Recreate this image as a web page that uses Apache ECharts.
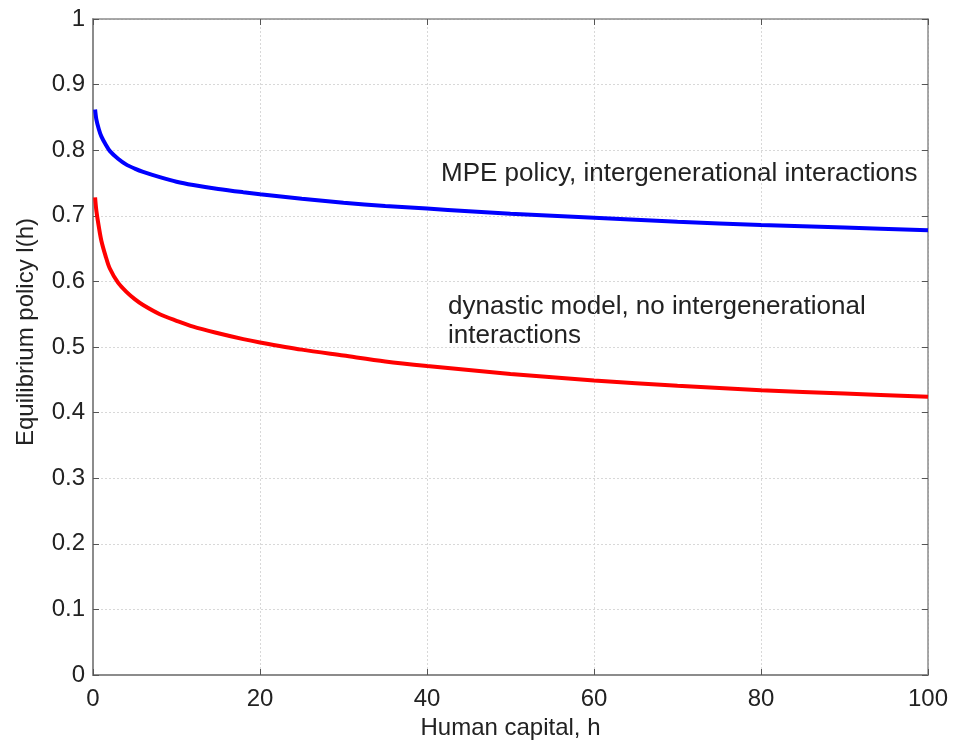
<!DOCTYPE html>
<html>
<head>
<meta charset="utf-8">
<script src="https://cdn.jsdelivr.net/npm/echarts@6/dist/echarts.min.js"></script>
<style>
  html, body { margin: 0; padding: 0; background: #fff; }
  #chart { width: 958px; height: 749px; }
</style>
</head>
<body>
<div id="chart"></div>
<script>
// human capital h (x) and equilibrium policy l(h) for both models
const hValues = [0.25, 0.4, 0.7, 1, 1.5, 2, 3, 4, 5, 6, 8, 10, 12, 15, 18, 20, 25, 30, 35, 40, 45, 50, 60, 70, 80, 90, 100]
const mpePolicy = [0.862, 0.847, 0.832, 0.821, 0.809, 0.799, 0.787, 0.778, 0.772, 0.767, 0.759, 0.752, 0.747, 0.741, 0.736, 0.733, 0.726, 0.720, 0.715, 0.711, 0.707, 0.703, 0.697, 0.691, 0.686, 0.682, 0.678]
const dynasticPolicy = [0.728, 0.708, 0.683, 0.662, 0.639, 0.620, 0.598, 0.584, 0.573, 0.564, 0.550, 0.540, 0.531, 0.521, 0.512, 0.507, 0.496, 0.487, 0.478, 0.471, 0.465, 0.459, 0.449, 0.441, 0.434, 0.429, 0.424]
const mpeLabel = 'MPE policy, intergenerational interactions'
const dynasticLabel = ['dynastic model, no intergenerational', 'interactions']

const font = '"Liberation Sans", Arial, sans-serif'
const chart = echarts.init(document.getElementById('chart'))

const lineCol = '#8c8c8c'
const axisCommon = {
  axisLine: { show: true, onZero: false, lineStyle: { color: lineCol, width: 2 } },
  axisTick: { show: true, inside: true, length: 6, lineStyle: { color: '#555', width: 1 } },
  axisLabel: { color: '#222', fontSize: 24, fontFamily: font },
  splitLine: { show: true, lineStyle: { color: '#d8d8d8', type: [2, 2], width: 1 } },
  nameTextStyle: { color: '#222', fontSize: 24, fontFamily: font }
}
// mirrored box axes (top / right), ticks only
const boxAxis = {
  axisLine: { show: true, onZero: false, lineStyle: { color: lineCol, width: 1.5 } },
  axisTick: { show: true, inside: true, length: 6, lineStyle: { color: '#555', width: 1 } },
  axisLabel: { show: false },
  splitLine: { show: false }
}

chart.setOption({
  animation: false,
  grid: { left: 93, right: 30, top: 19, bottom: 74 },
  xAxis: [
    {
      ...axisCommon,
      type: 'value', min: 0, max: 100, interval: 20,
      name: 'Human capital, h', nameLocation: 'middle', nameGap: 41,
      axisLabel: { ...axisCommon.axisLabel, margin: 12 }
    },
    { ...boxAxis, type: 'value', position: 'top', min: 0, max: 100, interval: 20 }
  ],
  yAxis: [
    {
      ...axisCommon,
      type: 'value', min: 0, max: 1, interval: 0.1,
      name: 'Equilibrium policy l(h)', nameLocation: 'middle', nameGap: 55,
      nameTextStyle: { ...axisCommon.nameTextStyle, padding: [0, 0, 0, 30] },
      axisLabel: { ...axisCommon.axisLabel, margin: 8, formatter: v => String(+v.toFixed(1)) }
    },
    { ...boxAxis, type: 'value', position: 'right', min: 0, max: 1, interval: 0.1 }
  ],
  series: [
    {
      type: 'line', data: hValues.map((h, i) => [h, mpePolicy[i]]),
      showSymbol: false, smooth: 0.3,
      lineStyle: { color: '#0000ff', width: 4 }
    },
    {
      type: 'line', data: hValues.map((h, i) => [h, dynasticPolicy[i]]),
      showSymbol: false, smooth: 0.3,
      lineStyle: { color: '#ff0000', width: 4 }
    }
  ],
  graphic: [
    { type: 'text', x: 441, y: 174, style: { text: mpeLabel, fill: '#222', font: '26px ' + font, verticalAlign: 'middle' } },
    { type: 'text', x: 448, y: 307, style: { text: dynasticLabel[0], fill: '#222', font: '26px ' + font, verticalAlign: 'middle' } },
    { type: 'text', x: 448, y: 336, style: { text: dynasticLabel[1], fill: '#222', font: '26px ' + font, verticalAlign: 'middle' } }
  ]
})
</script>
</body>
</html>
